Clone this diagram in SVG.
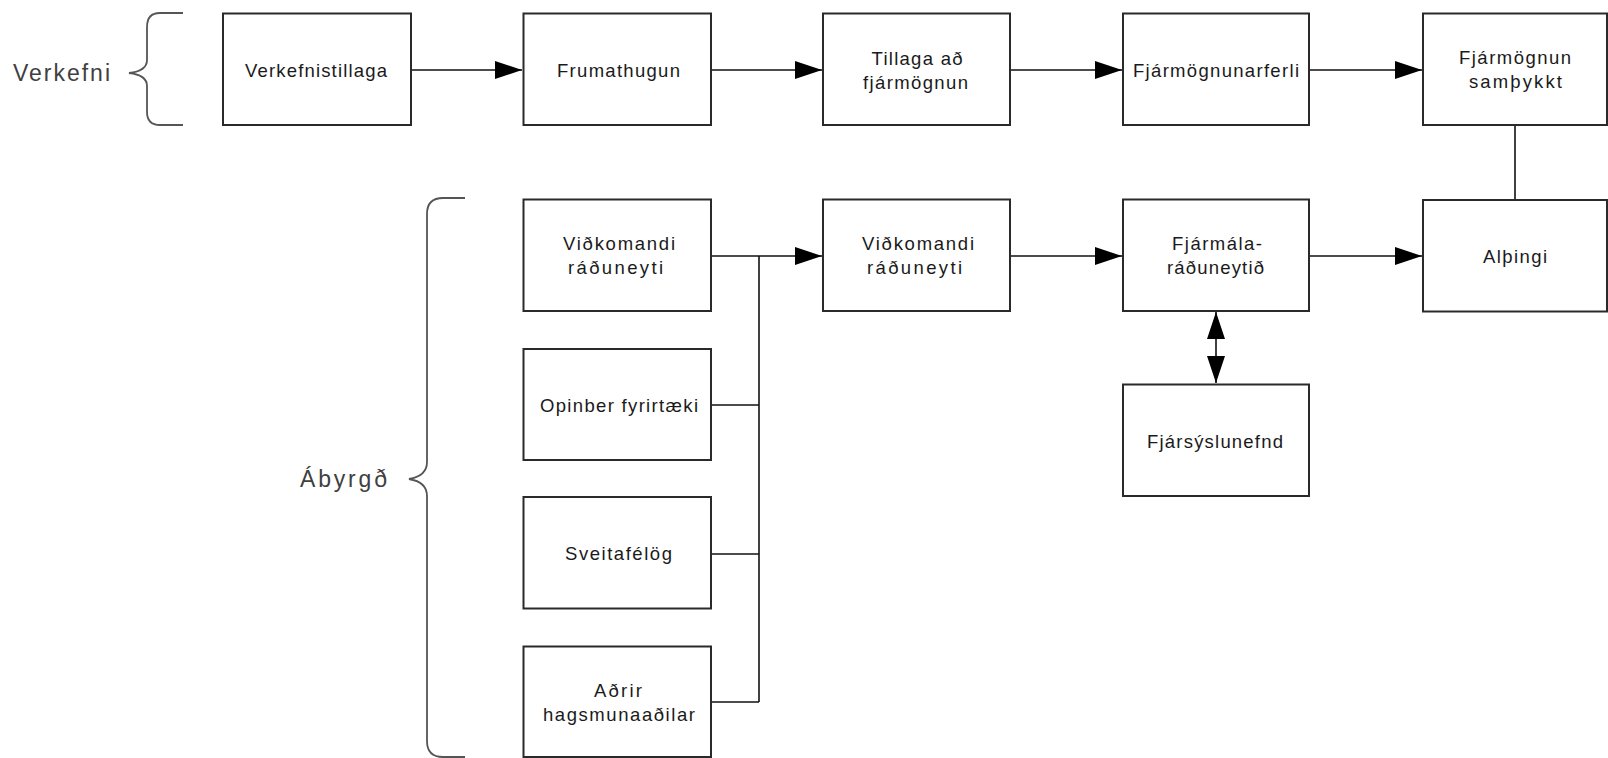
<svg xmlns="http://www.w3.org/2000/svg" width="1608" height="758" viewBox="0 0 1608 758">
<style>
.box{fill:#fff;stroke:#2a2a2a;stroke-width:2}
.t{font-family:"Liberation Sans",Arial,sans-serif;font-size:18.5px;fill:#1a1a1a;text-anchor:middle}
.lbl{font-family:"Liberation Sans",Arial,sans-serif;font-size:23px;fill:#404040}
.c{fill:none;stroke:#111;stroke-width:1.6}
.brace{fill:none;stroke:#555;stroke-width:1.8}
</style>
<defs>
<marker id="ah" markerUnits="userSpaceOnUse" markerWidth="28" markerHeight="20" refX="27" refY="9.5" orient="auto-start-reverse" viewBox="0 0 28 20">
<path d="M0,0.5 L27,9.5 L0,18.5 z" fill="#000"/>
</marker>
</defs>
<rect width="1608" height="758" fill="#fff"/>
<g id="braces">
<path class="brace" d="M183,13 H160 Q147,13 147,27 V60 Q147,71 129,73 Q147,75 147,86 V112 Q147,125 160,125 H183"/>
<path class="brace" d="M465,198 H443 Q427,198 427,214 V462 Q427,476 409,479 Q427,482 427,496 V741 Q427,757 443,757 H465"/>
</g>
<g id="label-verkefni"><text class="lbl" x="13" y="81" textLength="97" lengthAdjust="spacing">Verkefni</text></g>
<g id="label-abyrgd"><text class="lbl" x="300" y="487" textLength="87" lengthAdjust="spacing">Ábyrgð</text></g>
<g id="connectors">
<path class="c" d="M411,70 H522" marker-end="url(#ah)"/>
<path class="c" d="M711,70 H822" marker-end="url(#ah)"/>
<path class="c" d="M1010,70 H1122" marker-end="url(#ah)"/>
<path class="c" d="M1309,70 H1422" marker-end="url(#ah)"/>
<path class="c" d="M1515,125 V200"/>
<path class="c" d="M711,256 H822" marker-end="url(#ah)"/>
<path class="c" d="M1010,256 H1122" marker-end="url(#ah)"/>
<path class="c" d="M1309,256 H1422" marker-end="url(#ah)"/>
<path class="c" d="M759,256 V702"/>
<path class="c" d="M711,405 H759"/>
<path class="c" d="M711,554 H759"/>
<path class="c" d="M711,702 H759"/>
<path class="c" d="M1216,312 V383" marker-start="url(#ah)" marker-end="url(#ah)"/>
</g>
<g id="n-verkefnistillaga"><rect class="box" x="223" y="13.5" width="188" height="111.5"/><text class="t" x="316" y="77" textLength="142" lengthAdjust="spacing">Verkefnistillaga</text></g>
<g id="n-frumathugun"><rect class="box" x="523.5" y="13.5" width="187.5" height="111.5"/><text class="t" x="618.5" y="77" textLength="123" lengthAdjust="spacing">Frumathugun</text></g>
<g id="n-tillaga"><rect class="box" x="823" y="13.5" width="187" height="111.5"/><text class="t" x="917" y="65" textLength="91" lengthAdjust="spacing">Tillaga að</text><text class="t" x="915.5" y="89" textLength="105" lengthAdjust="spacing">fjármögnun</text></g>
<g id="n-fjarmognunarferli"><rect class="box" x="1123" y="13.5" width="186" height="111.5"/><text class="t" x="1216" y="77" textLength="166" lengthAdjust="spacing">Fjármögnunarferli</text></g>
<g id="n-samthykkt"><rect class="box" x="1423" y="13.5" width="184" height="111.5"/><text class="t" x="1515" y="64" textLength="112" lengthAdjust="spacing">Fjármögnun</text><text class="t" x="1515.5" y="88" textLength="93" lengthAdjust="spacing">samþykkt</text></g>
<g id="n-vidkomandi1"><rect class="box" x="523.5" y="199.5" width="187.5" height="111.5"/><text class="t" x="619" y="250" textLength="112" lengthAdjust="spacing">Viðkomandi</text><text class="t" x="615.5" y="274" textLength="95" lengthAdjust="spacing">ráðuneyti</text></g>
<g id="n-vidkomandi2"><rect class="box" x="823" y="199.5" width="187" height="111.5"/><text class="t" x="918" y="250" textLength="112" lengthAdjust="spacing">Viðkomandi</text><text class="t" x="914.5" y="274" textLength="95" lengthAdjust="spacing">ráðuneyti</text></g>
<g id="n-fjarmalaraduneytid"><rect class="box" x="1123" y="199.5" width="186" height="111.5"/><text class="t" x="1217" y="250" textLength="90" lengthAdjust="spacing">Fjármála-</text><text class="t" x="1215.5" y="274" textLength="97" lengthAdjust="spacing">ráðuneytið</text></g>
<g id="n-althingi"><rect class="box" x="1423" y="200" width="184" height="111.5"/><text class="t" x="1515" y="263" textLength="64" lengthAdjust="spacing">Alþingi</text></g>
<g id="n-opinber"><rect class="box" x="523.5" y="349" width="187.5" height="111"/><text class="t" x="619" y="412" textLength="158" lengthAdjust="spacing">Opinber fyrirtæki</text></g>
<g id="n-fjarsyslunefnd"><rect class="box" x="1123" y="384.5" width="186" height="111.5"/><text class="t" x="1215" y="448" textLength="136" lengthAdjust="spacing">Fjársýslunefnd</text></g>
<g id="n-sveitafelog"><rect class="box" x="523.5" y="497" width="187.5" height="111.5"/><text class="t" x="618.5" y="560" textLength="107" lengthAdjust="spacing">Sveitafélög</text></g>
<g id="n-adrir"><rect class="box" x="523.5" y="646.5" width="187.5" height="110.5"/><text class="t" x="618" y="697" textLength="48" lengthAdjust="spacing">Aðrir</text><text class="t" x="619" y="721" textLength="152" lengthAdjust="spacing">hagsmunaaðilar</text></g>
</svg>
